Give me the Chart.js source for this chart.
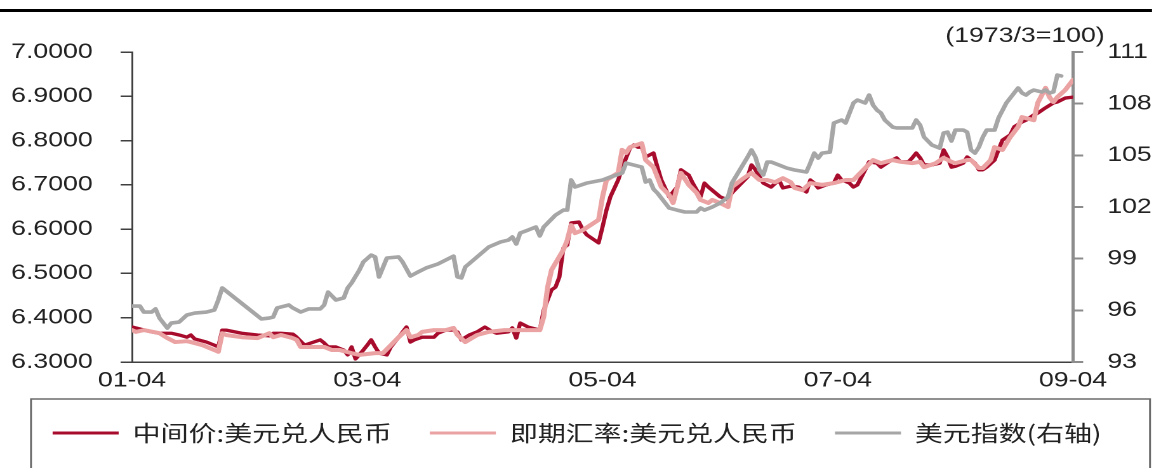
<!DOCTYPE html>
<html lang="zh-CN">
<head>
<meta charset="utf-8">
<title>人民币汇率与美元指数</title>
<script src="https://cdn.jsdelivr.net/npm/chart.js@4.4.1/dist/chart.umd.min.js"></script>
<style>
  html, body { margin: 0; padding: 0; background: #fff; overflow: hidden; }
  #wrap { width: 1154px; height: 468px; overflow: hidden; }
  /* the drawing is laid out on a narrower canvas and widened to the page */
  #chart { display: block; transform-origin: 0 0; transform: scaleX(1.26953); }
</style>
</head>
<body>
<div id="wrap"><canvas id="chart" width="909" height="468"></canvas></div>
<script>
// x positions are days counted from 01-04 (240 = 09-04)
const tickLabels = ['01-04', '03-04', '05-04', '07-04', '09-04'];
const seriesNames = ['中间价:美元兑人民币', '即期汇率:美元兑人民币', '美元指数(右轴)'];
const dxyUnit = '(1973/3=100)';

// 中间价:美元兑人民币
const midDay = [0, 1, 5, 7, 8, 10, 12, 14, 15, 16,
  19, 21, 22, 23, 24, 28, 32, 35, 36, 38,
  41, 42, 44, 48, 49, 50, 52, 54, 55, 56,
  57, 59, 60, 61, 62, 63, 65, 66, 68, 70,
  71, 72, 74, 77, 78, 80, 82, 83, 84, 86,
  88, 90, 92, 93, 96, 97, 98, 99, 101, 104,
  105, 107, 108, 109, 110, 111, 112, 114, 115, 116,
  119, 120, 121, 122, 124, 125, 127, 128, 129, 130,
  131, 133, 134, 135, 137, 139, 140, 142, 143, 145,
  146, 147, 150, 152, 153, 157, 158, 159, 161, 163,
  165, 166, 168, 170, 172, 173, 174, 175, 177, 179,
  180, 181, 183, 184, 185, 187, 188, 190, 191, 193,
  195, 196, 198, 199, 200, 201, 202, 204, 206, 207,
  208, 209, 210, 212, 213, 215, 216, 217, 218, 220,
  221, 222, 224, 225, 227, 228, 230, 231, 233, 235,
  236, 238, 240];
const midRate = [6.379, 6.377, 6.368, 6.365, 6.365, 6.365, 6.361, 6.356, 6.361, 6.352,
  6.345, 6.338, 6.334, 6.372, 6.372, 6.365, 6.361, 6.359, 6.365, 6.365,
  6.363, 6.356, 6.338, 6.350, 6.343, 6.334, 6.334, 6.327, 6.316, 6.334,
  6.307, 6.327, 6.338, 6.350, 6.334, 6.320, 6.316, 6.334, 6.356, 6.379,
  6.345, 6.350, 6.356, 6.356, 6.365, 6.372, 6.372, 6.368, 6.350, 6.361,
  6.368, 6.379, 6.368, 6.365, 6.368, 6.377, 6.354, 6.388, 6.379, 6.372,
  6.417, 6.463, 6.469, 6.492, 6.557, 6.564, 6.614, 6.616, 6.598, 6.587,
  6.569, 6.605, 6.643, 6.673, 6.711, 6.738, 6.783, 6.790, 6.785, 6.785,
  6.763, 6.772, 6.740, 6.711, 6.673, 6.695, 6.734, 6.722, 6.704, 6.673,
  6.704, 6.695, 6.673, 6.666, 6.682, 6.718, 6.745, 6.734, 6.704, 6.695,
  6.711, 6.693, 6.697, 6.695, 6.684, 6.711, 6.704, 6.693, 6.700, 6.704,
  6.722, 6.711, 6.704, 6.695, 6.700, 6.734, 6.752, 6.749, 6.740, 6.752,
  6.761, 6.752, 6.752, 6.761, 6.772, 6.761, 6.745, 6.745, 6.749, 6.779,
  6.763, 6.740, 6.742, 6.749, 6.763, 6.749, 6.734, 6.734, 6.740, 6.756,
  6.779, 6.801, 6.813, 6.831, 6.842, 6.846, 6.858, 6.862, 6.874, 6.885,
  6.887, 6.896, 6.898];

// 即期汇率:美元兑人民币
const spotDay = [0, 1, 3, 7, 9, 11, 14, 15, 18, 21,
  22, 23, 24, 28, 32, 35, 36, 38, 41, 42,
  43, 45, 49, 51, 53, 56, 58, 62, 64, 66,
  68, 70, 71, 73, 74, 77, 80, 82, 83, 85,
  88, 91, 95, 98, 101, 104, 105, 106, 107, 110,
  111, 112, 113, 115, 119, 120, 121, 124, 125, 126,
  127, 130, 131, 133, 135, 137, 138, 140, 142, 144,
  145, 147, 148, 150, 152, 153, 156, 158, 160, 162,
  164, 166, 168, 169, 171, 173, 176, 179, 182, 184,
  187, 189, 191, 194, 196, 199, 201, 202, 205, 207,
  209, 210, 213, 214, 216, 217, 219, 220, 222, 224,
  226, 227, 230, 231, 233, 234, 235, 236, 238, 240];
const spotRate = [6.372, 6.368, 6.372, 6.365, 6.354, 6.345, 6.347, 6.345, 6.338, 6.327,
  6.323, 6.365, 6.361, 6.356, 6.354, 6.365, 6.356, 6.361, 6.354, 6.350,
  6.334, 6.334, 6.334, 6.327, 6.327, 6.320, 6.316, 6.320, 6.320, 6.338,
  6.356, 6.372, 6.356, 6.361, 6.368, 6.372, 6.372, 6.377, 6.361, 6.345,
  6.361, 6.368, 6.372, 6.372, 6.372, 6.372, 6.402, 6.469, 6.508, 6.553,
  6.575, 6.609, 6.591, 6.598, 6.621, 6.673, 6.711, 6.727, 6.779, 6.772,
  6.785, 6.794, 6.756, 6.740, 6.695, 6.677, 6.659, 6.727, 6.700, 6.682,
  6.666, 6.659, 6.666, 6.659, 6.650, 6.695, 6.715, 6.727, 6.711, 6.711,
  6.706, 6.715, 6.706, 6.693, 6.688, 6.704, 6.700, 6.704, 6.711, 6.711,
  6.738, 6.756, 6.749, 6.756, 6.752, 6.749, 6.752, 6.740, 6.749, 6.761,
  6.752, 6.749, 6.756, 6.756, 6.738, 6.738, 6.756, 6.785, 6.779, 6.808,
  6.831, 6.853, 6.846, 6.885, 6.919, 6.898, 6.887, 6.898, 6.914, 6.937];

// 美元指数 (right axis)
const dxyDay = [0, 2, 3, 5, 6, 7, 9, 10, 12, 14,
  16, 19, 21, 22, 23, 33, 35, 36, 37, 40,
  41, 43, 45, 48, 49, 50, 52, 54, 55, 56,
  58, 59, 61, 62, 63, 65, 68, 69, 71, 73,
  75, 78, 82, 83, 84, 85, 88, 91, 94, 96,
  97, 98, 99, 101, 103, 104, 105, 108, 110, 111,
  112, 113, 116, 120, 122, 125, 126, 130, 131, 132,
  133, 134, 136, 137, 139, 141, 144, 145, 146, 148,
  150, 152, 153, 155, 157, 158, 159, 160, 161, 162,
  163, 165, 167, 169, 172, 173, 174, 175, 176, 178,
  179, 181, 182, 184, 185, 187, 188, 189, 190, 191,
  192, 194, 195, 199, 200, 201, 202, 204, 206, 207,
  208, 209, 210, 212, 213, 214, 215, 216, 217, 218,
  220, 221, 223, 225, 226, 227, 228, 229, 230, 232,
  233, 234, 235, 236, 237];
const dxyIndex = [96.25, 96.25, 95.90, 95.90, 96.08, 95.55, 94.97, 95.26, 95.32, 95.73,
  95.84, 95.90, 96.02, 96.60, 97.30, 95.50, 95.55, 95.61, 96.14, 96.31,
  96.14, 95.90, 96.08, 96.08, 96.31, 97.06, 96.60, 96.72, 97.30, 97.59,
  98.34, 98.81, 99.21, 99.10, 97.94, 99.04, 99.10, 98.81, 97.99, 98.23,
  98.46, 98.69, 99.15, 97.94, 97.88, 98.52, 99.10, 99.68, 99.97, 100.08,
  100.26, 99.85, 100.49, 100.66, 100.84, 100.32, 100.84, 101.53, 101.82, 101.82,
  103.57, 103.16, 103.39, 103.57, 103.74, 103.97, 104.55, 104.32, 103.45, 103.57,
  103.04, 102.81, 102.23, 101.94, 101.82, 101.71, 101.71, 101.94, 101.82, 102.00,
  102.23, 102.58, 103.39, 104.15, 104.90, 105.31, 104.90, 104.15, 103.86, 104.61,
  104.61, 104.44, 104.26, 104.15, 104.03, 104.55, 105.13, 104.84, 105.13, 105.19,
  106.88, 107.05, 106.88, 108.04, 108.21, 108.04, 108.50, 107.92, 107.63, 107.46,
  107.05, 106.64, 106.59, 106.59, 107.05, 106.76, 106.06, 105.60, 105.42, 106.30,
  106.35, 105.83, 106.47, 106.47, 106.35, 105.31, 105.13, 105.48, 106.06, 106.47,
  106.47, 107.17, 108.04, 108.62, 108.91, 108.62, 108.50, 108.68, 108.79, 108.68,
  108.79, 108.62, 108.68, 109.66, 109.61];

const SX = 1154 / 909;            // horizontal widening applied by CSS
const RED = '#A80C2C';
const PINK = '#EBA2A2';
const GREY = '#A6A6A6';
const TEXT = '#222222';
const LATIN = "'Liberation Sans', Arial, sans-serif";
const CJK = "'Noto Sans CJK SC', 'Noto Sans', sans-serif";

const toPoints = (days, values) => days.map((d, i) => ({ x: d, y: values[i] }));

// top rule, legend frame and the unit note above the right axis
const decorations = {
  id: 'decorations',
  afterDraw(chart) {
    const { ctx } = chart;
    ctx.save();
    ctx.fillStyle = '#000';
    ctx.fillRect(0, 9, 1152 / SX, 3);
    ctx.strokeStyle = '#6b6b6b';
    ctx.lineWidth = 1.5;
    ctx.strokeRect(31 / SX, 399, (1150 - 31) / SX, 120);
    ctx.fillStyle = TEXT;
    ctx.font = `21px ${LATIN}`;
    ctx.textAlign = 'center';
    ctx.textBaseline = 'middle';
    ctx.fillText(dxyUnit, 1025 / SX, 36);
    ctx.restore();
  }
};

const legendDefaults = Chart.defaults.plugins.legend.labels.generateLabels;

new Chart(document.getElementById('chart'), {
  type: 'line',
  data: {
    datasets: [
      { label: seriesNames[0], data: toPoints(midDay, midRate), yAxisID: 'y',
        borderColor: RED, backgroundColor: RED, borderWidth: 3.3, order: 2 },
      { label: seriesNames[1], data: toPoints(spotDay, spotRate), yAxisID: 'y',
        borderColor: PINK, backgroundColor: PINK, borderWidth: 4, order: 1 },
      { label: seriesNames[2], data: toPoints(dxyDay, dxyIndex), yAxisID: 'y1',
        borderColor: GREY, backgroundColor: GREY, borderWidth: 3.6, order: 0 }
    ]
  },
  options: {
    responsive: false,
    animation: false,
    devicePixelRatio: 2,
    elements: {
      point: { radius: 0, hoverRadius: 0 },
      line: { tension: 0, borderJoinStyle: 'round', borderCapStyle: 'round', fill: false }
    },
    layout: { padding: { top: 52, bottom: 14, left: 0, right: 0 } },
    plugins: {
      tooltip: { enabled: false },
      title: { display: false },
      legend: {
        position: 'bottom',
        align: 'center',
        labels: {
          boxWidth: 52,
          boxHeight: 3,
          padding: 30,
          color: TEXT,
          font: { family: CJK, size: 22 },
          generateLabels: (chart) => legendDefaults(chart).map(l => ({ ...l, lineWidth: 0 })),
          sort: (a, b) => a.datasetIndex - b.datasetIndex
        }
      }
    },
    scales: {
      x: {
        type: 'linear',
        min: 0,
        max: 240,
        afterFit: (s) => { s.height = 30; },
        grid: { display: false, drawTicks: false },
        border: { display: true, color: '#404040', width: 1.5 },
        ticks: {
          stepSize: 60,
          padding: 6,
          maxRotation: 0,
          autoSkip: false,
          color: TEXT,
          font: { family: LATIN, size: 21 },
          callback: (v) => tickLabels[Math.round(v / 60)] ?? ''
        }
      },
      y: {
        position: 'left',
        min: 6.3,
        max: 7.0,
        afterFit: (s) => { s.width = 104; },
        border: { display: true, color: '#404040', width: 1.5 },
        grid: { drawOnChartArea: false, drawTicks: true, tickLength: 9, color: '#404040', lineWidth: 1.5 },
        ticks: {
          stepSize: 0.1,
          padding: 22,
          color: TEXT,
          font: { family: LATIN, size: 21 },
          callback: (v) => Number(v).toFixed(4)
        }
      },
      y1: {
        position: 'right',
        min: 93,
        max: 111,
        afterFit: (s) => { s.width = 909 - 1073 / SX; },
        border: { display: true, color: '#8c8c8c', width: 2.5 },
        grid: { drawOnChartArea: false, drawTicks: true, tickLength: 8, color: '#8c8c8c', lineWidth: 2 },
        ticks: {
          stepSize: 3,
          padding: 19,
          color: TEXT,
          font: { family: LATIN, size: 21 },
          callback: (v) => String(v)
        }
      }
    }
  },
  plugins: [decorations]
});
</script>
</body>
</html>
